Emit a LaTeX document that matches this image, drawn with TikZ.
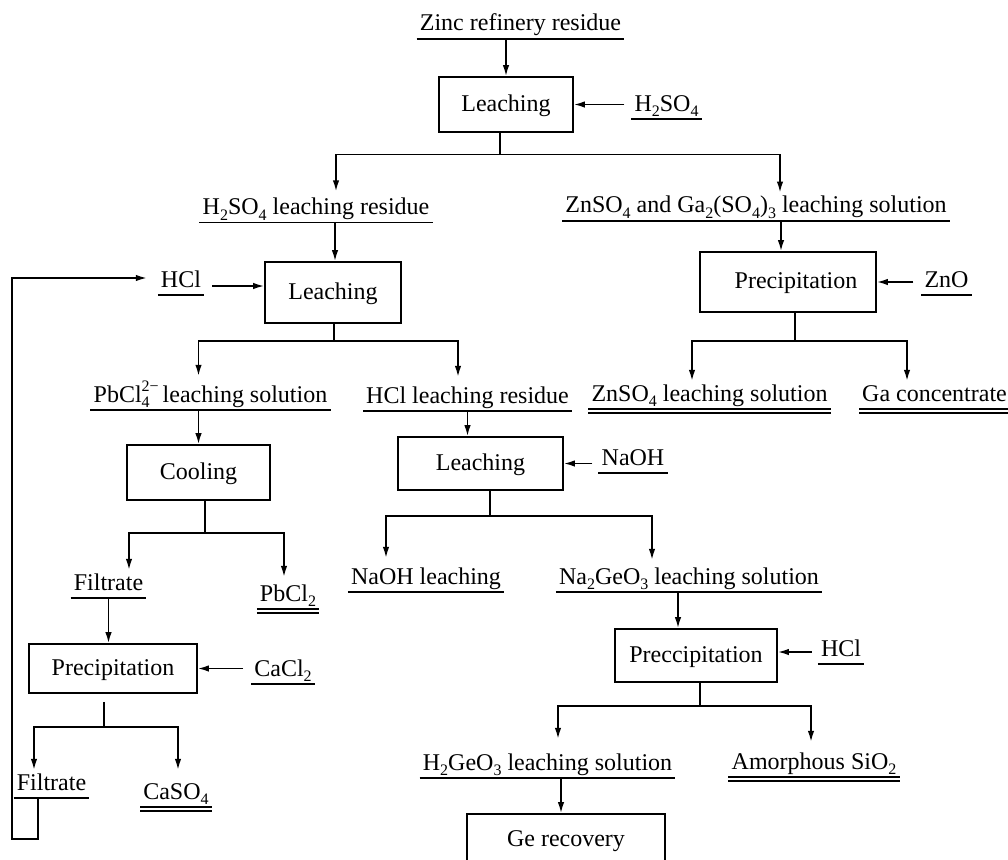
\documentclass[tikz,border=0pt]{standalone}
\usepackage{fontspec}
\setmainfont{Liberation Serif}
\usetikzlibrary{arrows.meta,calc}
\newcommand\bigf{\fontsize{24}{28}\selectfont}
\newcommand\smf{\fontsize{16}{16}\selectfont}
\newcommand\sbs[1]{\raisebox{-0.24em}{\smf #1}}
\newcommand\pbscript{\makebox[21pt][l]{\rlap{\raisebox{0.42em}{\smf 2−}}\raisebox{-0.24em}{\smf 4}}}
\tikzset{
  lbl/.style={font=\bigf, anchor=base, text height=17pt, text depth=5pt, inner xsep=3pt, inner ysep=3pt},
  uline/.style={draw, line width=1.5pt, -},
  ul/.style={lbl, append after command={(\tikzlastnode.south west) edge[uline] (\tikzlastnode.south east)}},
  dul/.style={ul, append after command={([yshift=-4pt]\tikzlastnode.south west) edge[uline] ([yshift=-4pt]\tikzlastnode.south east)}},
  box/.style={draw, line width=1.8pt, inner sep=0pt, font=\bigf, text height=17pt, text depth=4pt},
  arr/.style={line width=1.6pt, -{Latex[length=11pt,width=6.5pt]}},
  ln/.style={line width=1.6pt},
}
\begin{document}
\begin{tikzpicture}[x=1pt,y=-1pt]
\useasboundingbox (0,0) rectangle (1008,859);
\clip (0,0) rectangle (1008,859);
\fill[white] (0,0) rectangle (1008,859);

% nodes
\node[ul] (zinc) at (520.5,30.7) {Zinc refinery residue};
\node[box, minimum width=134pt, minimum height=55pt] (b1) at (506,104.5) {Leaching};
\node[ul] (h2so4) at (666.5,111) {H\sbs{2}SO\sbs{4}};
\node[ul] (res1) at (316,214.5) {H\sbs{2}SO\sbs{4} leaching residue};
\node[ul] (znga) at (756,212.7) {ZnSO\sbs{4} and Ga\sbs{2}(SO\sbs{4})\sbs{3} leaching solution};
\node[box, minimum width=136pt, minimum height=61pt] (b2) at (333,292.5) {Leaching};
\node[ul] (hcl1) at (181,287) {HCl};
\node[box, minimum width=176pt, minimum height=60pt] (b3) at (788,282) {\hspace*{16pt}Precipitation};
\node[ul] (zno) at (946.5,287) {ZnO};
\node[ul] (pbcl4) at (210.5,402) {PbCl\pbscript leaching solution};
\node[ul] (hclres) at (467.5,403) {HCl leaching residue};
\node[dul] (znso4) at (709.5,401) {ZnSO\sbs{4} leaching solution};
\node[dul] (gacon) at (934.5,401) {Ga concentrate};
\node[box, minimum width=143pt, minimum height=55pt] (b4) at (198.5,472.5) {Cooling};
\node[box, minimum width=165pt, minimum height=53pt] (b5) at (480.5,463.5) {Leaching};
\node[ul] (naoh) at (633,465) {NaOH};
\node[ul] (filt1) at (108.5,590) {Filtrate};
\node[dul] (pbcl2) at (288,601) {PbCl\sbs{2}};
\node[ul] (naohl) at (426,584) {NaOH leaching};
\node[ul] (na2geo3) at (689,584) {Na\sbs{2}GeO\sbs{3} leaching solution};
\node[box, minimum width=168pt, minimum height=49pt] (b6) at (113,668.5) {Precipitation};
\node[ul] (cacl2) at (283,676) {CaCl\sbs{2}};
\node[box, minimum width=162pt, minimum height=53pt] (b7) at (696,655.5) {Preccipitation};
\node[ul] (hcl2) at (841,656) {HCl};
\node[ul] (filt2) at (51.5,790) {Filtrate};
\node[dul] (caso4) at (176,799) {CaSO\sbs{4}};
\node[ul] (h2geo3) at (547.5,770) {H\sbs{2}GeO\sbs{3} leaching solution};
\node[dul] (sio2) at (814,769) {Amorphous SiO\sbs{2}};
\node[box, minimum width=198pt, minimum height=52pt] (b8) at (566,840) {Ge recovery};

% top
\draw[arr] (zinc.south -| b1.north) -- (b1.north);
\draw[arr] ([xshift=-7pt]h2so4.west |- b1.east) -- (b1.east);
\coordinate (j1) at ($(b1.south)+(-6,21.5)$);
\draw[ln] ([xshift=-6pt]b1.south) -- (j1);
\draw[arr, shorten >=3pt] (j1) -| ([xshift=3pt]res1.north -| b2.north);
\draw[arr] (j1) -| ([xshift=-8pt]b3.north |- znga.north);
\draw[arr] ([xshift=2pt]b2.north |- res1.south) -- ([xshift=2pt]b2.north);
\draw[arr] ([xshift=-7pt]b3.north |- znga.south) -- ([xshift=-7pt]b3.north);
\draw[arr] ([xshift=8pt,yshift=6.5pt]hcl1.east |- b2.west) -- ([yshift=6.5pt]b2.west);
\draw[arr] ([xshift=-8pt]zno.west |- b3.east) -- (b3.east);

% right branch of precipitation
\coordinate (j3) at ($(b3.south)+(7,28)$);
\draw[ln] ([xshift=7pt]b3.south) -- (j3);
\draw[arr] (j3) -| ([xshift=-17.5pt]znso4.north);
\draw[arr] (j3) -| ([xshift=-27.5pt]gacon.north);

% HCl leaching branch
\coordinate (j2) at ($(b2.south)+(1,17)$);
\draw[ln] ([xshift=1pt]b2.south) -- (j2);
\draw[arr, shorten >=6pt] (j2) -| (pbcl4.north -| b4.north);
\draw[arr, shorten >=6pt] (j2) -| ([xshift=-9.5pt]hclres.north);
\draw[arr] (pbcl4.south -| b4.north) -- (b4.north);
\draw[arr] (hclres.south) -- (hclres.south |- b5.north);
\draw[arr] ([xshift=-6pt]naoh.west |- b5.east) -- (b5.east);

% cooling branch
\coordinate (j4) at ($(b4.south)+(6.5,32)$);
\draw[ln] ([xshift=6.5pt]b4.south) -- (j4);
\draw[arr] (j4) -| ([xshift=20.5pt]filt1.north);
\draw[arr, shorten >=4pt] (j4) -| ([xshift=-4pt]pbcl2.north);
\draw[arr] (filt1.south) -- (filt1.south |- b6.north);
\draw[arr] ([xshift=-8pt]cacl2.west |- b6.east) -- (b6.east);

% CaCl2 precipitation branch
\coordinate (s6) at ($(b6.south)+(-9,8)$);
\coordinate (j6) at ($(b6.south)+(-9,33)$);
\draw[ln] (s6) -- (j6);
\draw[arr] (j6) -| ([xshift=-17.5pt]filt2.north);
\draw[arr, shorten >=9pt] (j6) -| ([xshift=2pt]caso4.north);

% NaOH leaching branch
\coordinate (j5) at ($(b5.south)+(9.5,25)$);
\draw[ln] ([xshift=9.5pt]b5.south) -- (j5);
\draw[arr, shorten >=6pt] (j5) -| ([xshift=-40pt]naohl.north);
\draw[arr, shorten >=4pt] (j5) -| ([xshift=-37pt]na2geo3.north);
\draw[arr] ([xshift=-11pt]na2geo3.south) -- ([xshift=-11pt]na2geo3.south |- b7.north);
\draw[arr] ([xshift=-6pt,yshift=3.5pt]hcl2.west |- b7.east) -- ([yshift=3.5pt]b7.east);

% Preccipitation branch
\coordinate (j7) at ($(b7.south)+(4,23)$);
\draw[ln] ([xshift=4pt]b7.south) -- (j7);
\draw[arr, shorten >=11pt] (j7) -| ([xshift=10.5pt]h2geo3.north);
\draw[arr, shorten >=7pt] (j7) -| ([xshift=-3pt]sio2.north);
\draw[arr] ([xshift=13.5pt]h2geo3.south) -- ([xshift=13.5pt]h2geo3.south |- b8.north);

% recycle loop
\coordinate (lp) at (12,839);
\draw[arr] ([xshift=-13.5pt]filt2.south) |- (lp) |- ([xshift=-11pt,yshift=3pt]hcl1.west);
\end{tikzpicture}
\end{document}
